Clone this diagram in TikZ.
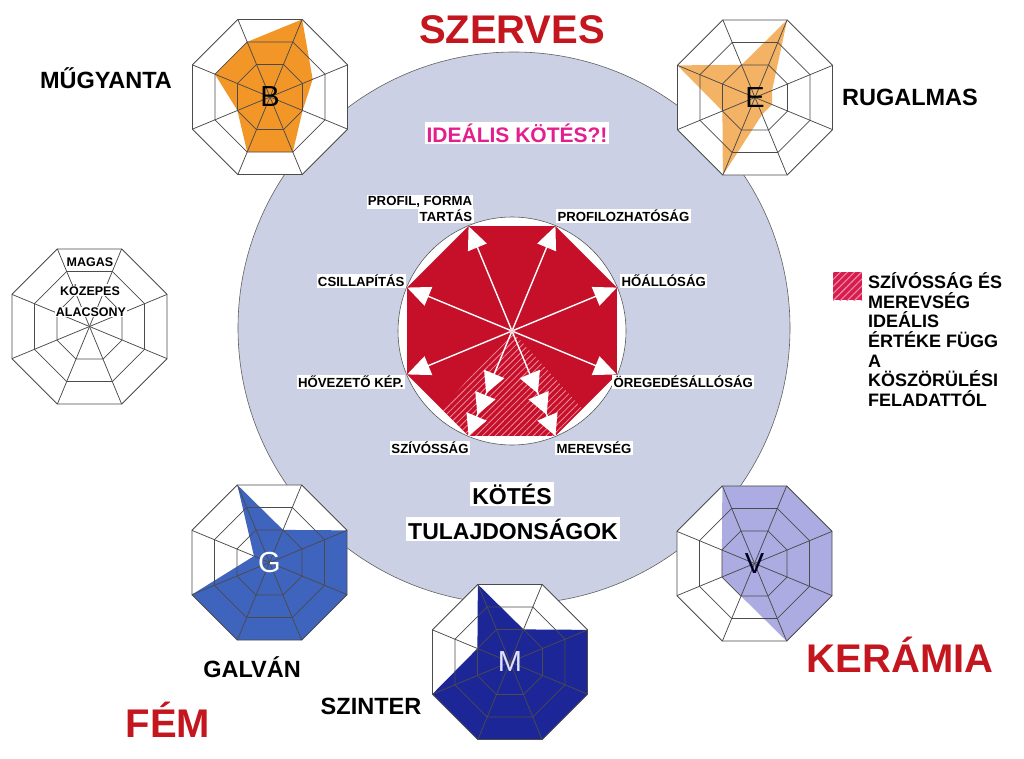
\documentclass[tikz,border=0pt]{standalone}
\usepackage{fontspec}
\setmainfont{Liberation Sans}
\setsansfont{Liberation Sans}
\usetikzlibrary{arrows.meta,patterns.meta,calc}

\definecolor{bigcirc}{RGB}{204,208,228}
\definecolor{darkred}{RGB}{196,22,30}
\definecolor{crimson}{RGB}{198,16,42}
\definecolor{magentatxt}{RGB}{228,30,140}
\definecolor{orangeB}{RGB}{242,150,40}
\definecolor{orangeE}{RGB}{244,178,100}
\definecolor{blueG}{RGB}{62,100,190}
\definecolor{blueM}{RGB}{28,38,150}
\definecolor{lavV}{RGB}{172,172,226}
\definecolor{gridc}{RGB}{75,75,75}
\definecolor{hatchc}{RGB}{214,28,80}
\definecolor{hatchline}{RGB}{238,140,160}

\tikzset{
  gridline/.style={draw=gridc, line width=0.75pt, line join=round},
  biglbl/.style={font=\bfseries\fontsize{40}{44}\selectfont, text=darkred, inner sep=0pt},
  typelbl/.style={font=\bfseries\fontsize{23.5}{26}\selectfont, inner sep=0pt},
  proplbl/.style={font=\bfseries\fontsize{13.2}{14}\selectfont, fill=white, inner sep=1.3pt},
  bondlbl/.style={font=\bfseries\fontsize{23}{25}\selectfont, fill=white, inner sep=2pt},
  leglbl/.style={font=\bfseries\fontsize{18}{20}\selectfont, inner sep=0pt},
  scalelbl/.style={font=\bfseries\fontsize{12.5}{14}\selectfont, fill=white, inner sep=1pt},
  chartletter/.style={font=\fontsize{29}{30}\selectfont, inner sep=0pt},
  singlearrow/.style={draw=white, line width=1.4pt, -{Triangle[length=23pt,width=20pt]}},
  arrowline/.style={draw=white, line width=1.4pt},
  headfill/.style={fill=white},
}

% #1 name, #2 x, #3 y, #4 fill colour, #5 eight values (22.5deg, 67.5deg, ... counter-clockwise)
\newcommand{\radarchart}[5]{%
\begin{scope}[shift={(#2,#3)},yscale=-1]
  \coordinate (#1) at (0,0);
  \foreach \ang [count=\i from 0] in {22.5,67.5,112.5,157.5,202.5,247.5,292.5,337.5}
    {\coordinate (#1o\i) at (\ang:84);}
  \foreach \v [count=\i from 0] in {#5}
    {\coordinate (#1v\i) at ({22.5+45*\i}:{84*\v});}
  \fill[white] (#1o0) -- (#1o1) -- (#1o2) -- (#1o3) -- (#1o4) -- (#1o5) -- (#1o6) -- (#1o7) -- cycle;
  \fill[#4] (#1v0) -- (#1v1) -- (#1v2) -- (#1v3) -- (#1v4) -- (#1v5) -- (#1v6) -- (#1v7) -- cycle;
  \foreach \s in {1,0.71,0.42}
    {\draw[gridline] (22.5:{84*\s}) -- (67.5:{84*\s}) -- (112.5:{84*\s}) -- (157.5:{84*\s})
      -- (202.5:{84*\s}) -- (247.5:{84*\s}) -- (292.5:{84*\s}) -- (337.5:{84*\s}) -- cycle;}
  \foreach \i in {0,...,7}{\draw[gridline] (#1) -- (#1o\i);}
\end{scope}}

% white triangular head: #1 target vertex, #2 distance of the tip back from it
\newcommand{\tripletip}[2]{%
  \coordinate (tp) at ($(#1)!#2!(C)$);
  \coordinate (tq) at ($(#1)!#2+21pt!(C)$);
  \fill[headfill] (tp) -- ($(tq)!11pt!90:(C)$) -- ($(tq)!11pt!-90:(C)$) -- cycle;}

\begin{document}
\begin{tikzpicture}[x=1pt,y=-1pt]
\useasboundingbox (0,0) rectangle (1024,759);
\fill[white] (0,0) rectangle (1024,759);

% big circle
\coordinate (BC) at (514,328);
\fill[bigcirc] (BC) circle[radius=276];
\draw[gray!75!black, line width=0.6pt] (BC) circle[radius=276];

% inner octagon
\coordinate (C) at (512,331);
\filldraw[fill=white, draw=gray!70!black, line width=0.6pt] (C) circle[radius=114];
\begin{scope}[shift={(512,331)},yscale=-1]
  \foreach \ang [count=\i from 0] in {22.5,67.5,112.5,157.5,202.5,247.5,292.5,337.5}
    {\coordinate (I\i) at (\ang:113.5);}
\end{scope}
\coordinate (HL) at (441.5,408.9);
\coordinate (HR) at (582.5,408.9);
\fill[crimson] (I0) -- (I1) -- (I2) -- (I3) -- (I4) -- (I5) -- (I6) -- (I7) -- cycle;
\fill[pattern={Lines[angle=45,distance=4.5pt,line width=0.8pt]}, pattern color=hatchline]
  (C) -- (HL) -- (I5) -- (I6) -- (HR) -- cycle;
\foreach \i in {0,1,2,3,4,7}{\draw[singlearrow] (C) -- (I\i);}
\draw[arrowline] (C) -- (I5);
\draw[arrowline] (C) -- (I6);
\tripletip{I5}{0pt}
\tripletip{I5}{23pt}
\tripletip{I5}{46pt}
\tripletip{I6}{0pt}
\tripletip{I6}{23pt}
\tripletip{I6}{46pt}
\fill[pink!70] (C) circle[radius=2];

% property labels
\node[proplbl] (lpf1) at (420,202) {PROFIL, FORMA};
\node[proplbl] (lpf2) at (446,216) {TARTÁS};
\node[proplbl, anchor=west] (lprof) at (556,216) {PROFILOZHATÓSÁG};
\node[proplbl, anchor=west] (lho) at (620,281) {HŐÁLLÓSÁG};
\node[proplbl, anchor=east] (lcs) at (406,281) {CSILLAPÍTÁS};
\node[proplbl, anchor=east] (lhv) at (405,382) {HŐVEZETŐ KÉP.};
\node[proplbl, anchor=west] (lor) at (612,382) {ÖREGEDÉSÁLLÓSÁG};
\node[proplbl] (lsz) at (430,448) {SZÍVÓSSÁG};
\node[proplbl, anchor=west] (lme) at (555,448) {MEREVSÉG};

\node[font=\bfseries\fontsize{21}{23}\selectfont, text=magentatxt, fill=white, inner sep=2pt] (ideal) at (517,133) {IDEÁLIS KÖTÉS?!};
\node[bondlbl] (kot1) at (512,494) {KÖTÉS};
\node[bondlbl] (kot2) at (513,529) {TULAJDONSÁGOK};

% radar charts
\radarchart{B}{270}{97}{orangeB}{0.55,1,0.71,0.71,0.42,0.71,0.71,0.42}
\radarchart{E}{755}{97.5}{orangeE}{0.22,1,0.42,1,0.42,1,0.22,0.22}
\radarchart{L}{89.5}{326.5}{white}{0,0,0,0,0,0,0,0}
\radarchart{G}{269.5}{562.5}{blueG}{1,0.42,1,0.2,1,1,1,1}
\radarchart{M}{510}{662}{blueM}{1,0.42,1,0.42,1,1,1,1}
\radarchart{V}{754.5}{563.5}{lavV}{1,1,1,0.42,0.42,0.42,1,1}

\node[chartletter, text=black] (Bl) at (B) {B};
\node[chartletter, text=black] (El) at (E) {E};
\node[chartletter, text=white] (Gl) at (G) {G};
\node[chartletter, text=white!88!blue] (Ml) at (M) {M};
\node[chartletter, text=black!85!blue] (Vl) at (V) {V};

% scale legend
\node[scalelbl] (smag) at (90,262) {MAGAS};
\node[scalelbl] (skoz) at (90,290) {KÖZEPES};
\node[scalelbl] (sala) at (91,312) {ALACSONY};

% category labels
\node[biglbl] (szerves) at (512,30) {SZERVES};
\node[biglbl] (keramia) at (900,655) {KERÁMIA};
\node[biglbl] (fem) at (168,720) {FÉM};
\node[typelbl] (mugy) at (106,78) {MŰGYANTA};
\node[typelbl] (rug) at (910,97) {RUGALMAS};
\node[typelbl] (galv) at (252,667) {GALVÁN};
\node[typelbl] (szint) at (371,706) {SZINTER};

% hatch legend
\fill[hatchc] (833,272) rectangle (862,300);
\fill[pattern={Lines[angle=45,distance=5pt,line width=1.1pt]}, pattern color=hatchline] (833,272) rectangle (862,300);
\node[leglbl, anchor=base west] (leg1) at (868,288.4) {SZÍVÓSSÁG ÉS};
\node[leglbl, anchor=base west] (leg2) at (868,308.1) {MEREVSÉG};
\node[leglbl, anchor=base west] (leg3) at (868,327.8) {IDEÁLIS};
\node[leglbl, anchor=base west] (leg4) at (868,347.5) {ÉRTÉKE FÜGG};
\node[leglbl, anchor=base west] (leg5) at (868,367.2) {A};
\node[leglbl, anchor=base west] (leg6) at (868,386.9) {KÖSZÖRÜLÉSI};
\node[leglbl, anchor=base west] (leg7) at (868,406.6) {FELADATTÓL};
\end{tikzpicture}
\end{document}
